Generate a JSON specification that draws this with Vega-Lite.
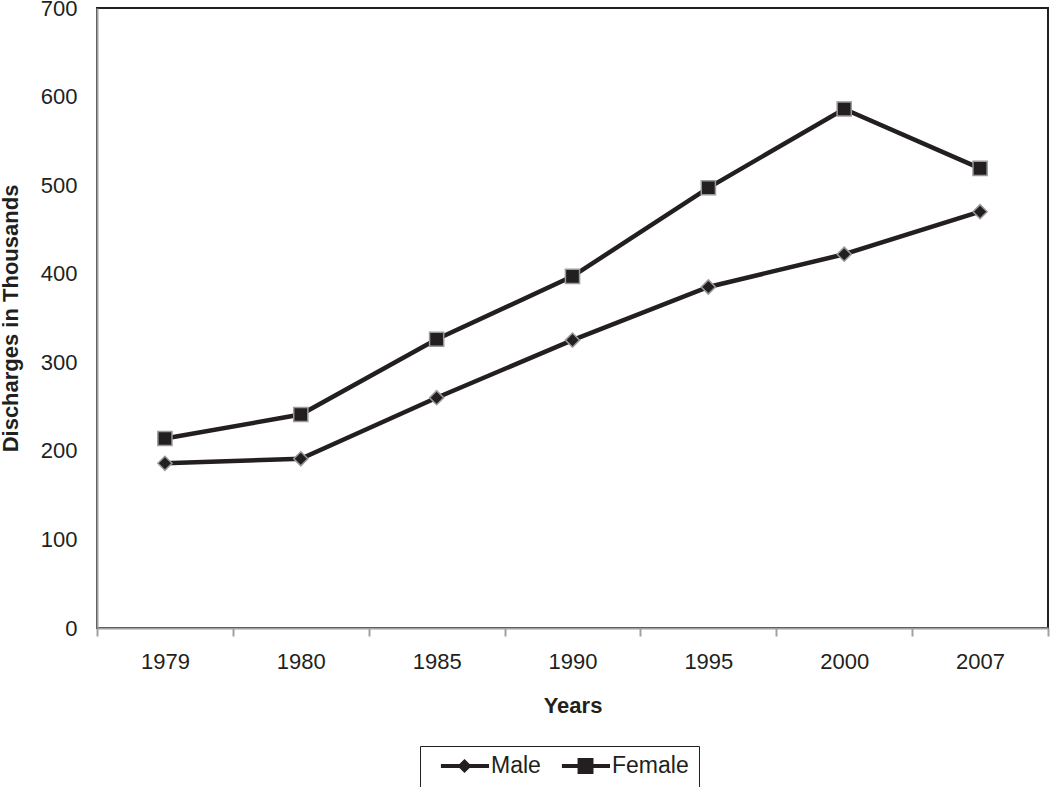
{
  "$schema": "https://vega.github.io/schema/vega-lite/v6.json",
  "autosize": {"type": "none"},
  "width": 951,
  "height": 620,
  "padding": {"left": 97, "top": 8, "right": 2, "bottom": 159},
  "background": "white",
  "config": {
    "font": "Liberation Sans",
    "view": {"stroke": "#231f20", "strokeWidth": 2},
    "axis": {"labelFont": "Liberation Sans", "titleFont": "Liberation Sans", "labelColor": "#231f20", "titleColor": "#231f20", "grid": false}
  },
  "data": {
    "values": [
      {"Year": "1979", "Sex": "Male", "Discharges": 186},
      {"Year": "1980", "Sex": "Male", "Discharges": 191},
      {"Year": "1985", "Sex": "Male", "Discharges": 260},
      {"Year": "1990", "Sex": "Male", "Discharges": 325},
      {"Year": "1995", "Sex": "Male", "Discharges": 385},
      {"Year": "2000", "Sex": "Male", "Discharges": 422},
      {"Year": "2007", "Sex": "Male", "Discharges": 470},
      {"Year": "1979", "Sex": "Female", "Discharges": 214},
      {"Year": "1980", "Sex": "Female", "Discharges": 241},
      {"Year": "1985", "Sex": "Female", "Discharges": 326},
      {"Year": "1990", "Sex": "Female", "Discharges": 397},
      {"Year": "1995", "Sex": "Female", "Discharges": 497},
      {"Year": "2000", "Sex": "Female", "Discharges": 586},
      {"Year": "2007", "Sex": "Female", "Discharges": 519}
    ]
  },
  "encoding": {
    "x": {
      "field": "Year", "type": "ordinal", "bandPosition": 0.5,
      "scale": {"type": "band", "paddingInner": 0, "paddingOuter": 0},
      "axis": {
        "title": "Years", "titleFontSize": 22, "titleFontWeight": "bold", "titlePadding": 23,
        "labelAngle": 0, "labelFontSize": 22, "labelPadding": 15,
        "tickBand": "extent", "tickSize": 8, "tickColor": "#a0a0a0", "tickWidth": 2,
        "domainColor": "#a0a0a0", "domainWidth": 2, "zindex": 1
      }
    },
    "y": {
      "field": "Discharges", "type": "quantitative",
      "scale": {"domain": [0, 700], "nice": false},
      "axis": {
        "title": "Discharges in Thousands", "titleFontSize": 22, "titleFontWeight": "bold", "titlePadding": 18,
        "values": [0, 100, 200, 300, 400, 500, 600, 700],
        "labelFontSize": 22, "ticks": false, "labelPadding": 20,
        "domainColor": "#a0a0a0", "domainWidth": 2, "zindex": 1
      }
    }
  },
  "resolve": {"scale": {"shape": "independent"}, "legend": {"shape": "independent"}},
  "layer": [
    {
      "mark": {"type": "line", "stroke": "#231f20", "strokeWidth": 4.5},
      "encoding": {"detail": {"field": "Sex"}}
    },
    {
      "mark": {"type": "point", "filled": true, "fill": "#231f20", "stroke": "#9a9a9a", "strokeWidth": 1.5, "opacity": 1, "fillOpacity": 1},
      "encoding": {
        "shape": {
          "field": "Sex", "type": "nominal",
          "scale": {"domain": ["Male", "Female"], "range": ["diamond", "square"]},
          "legend": null
        },
        "size": {"value": 200}
      }
    },
    {
      "mark": {"type": "point", "filled": true, "fill": "#231f20", "opacity": 0},
      "encoding": {
        "shape": {
          "field": "Sex", "type": "nominal",
          "scale": {"domain": ["Male", "Female"], "range": [
            "M-0.63,-0.068H1V0.068H-0.63Z M0.17,-0.24L0.41,0L0.17,0.24L-0.07,0Z",
            "M-0.63,-0.068H1V0.068H-0.63Z M-0.1,-0.27H0.44V0.27H-0.1Z"
          ]},
          "legend": {
            "title": null, "orient": "none", "legendX": 323, "legendY": 738, "direction": "horizontal",
            "padding": 10, "clipHeight": 20, "strokeColor": "#231f20", "fillColor": "white",
            "labelFontSize": 23, "labelFont": "Liberation Sans", "labelColor": "#231f20", "labelOffset": 2,
            "columnPadding": 10, "symbolSize": 3481, "symbolStrokeWidth": 0, "symbolFillColor": "#231f20", "symbolOpacity": 1,
            "encode": {
              "legend": {"update": {"strokeWidth": {"value": 2}}}
            }
          }
        },
        "size": {"value": 1}
      }
    }
  ]
}
